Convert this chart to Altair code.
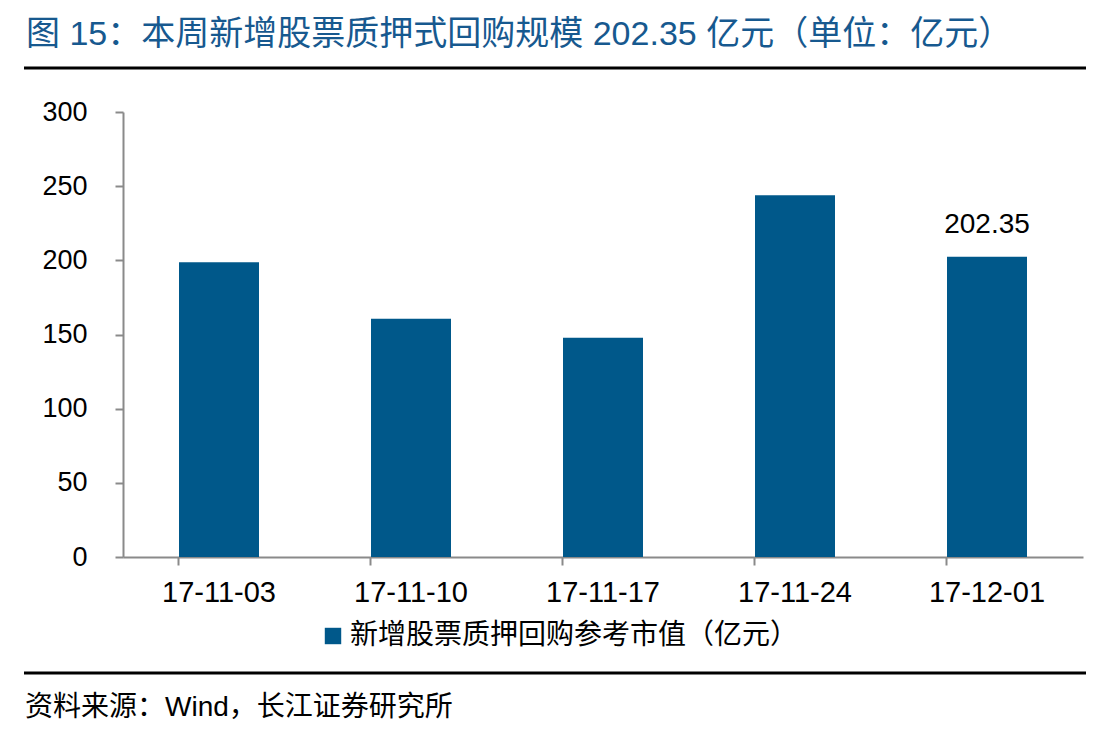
import altair as alt
import pandas as pd

dates = ["17-11-03", "17-11-10", "17-11-17", "17-11-24", "17-12-01"]
values = [198.7, 160.6, 147.8, 243.8, 202.35]
series_name = "新增股票质押回购参考市值（亿元）"
label_date = "17-12-01"
label_text = "202.35"

title_text = "图  15：本周新增股票质押式回购规模 202.35 亿元（单位：亿元）"
source_text = "资料来源：Wind，长江证券研究所"

FONT = "Liberation Sans, Arial, Noto Sans CJK SC"
BAR = "#00588A"
TITLE_C = "#17598F"

df = pd.DataFrame({"date": dates, "value": values, "series": [series_name] * len(dates)})
lab_df = pd.DataFrame({"date": [label_date], "value": [values[dates.index(label_date)]], "txt": [label_text]})

W, H = 960, 445

base = alt.Chart(df)

bars = base.mark_bar(size=80).encode(
    x=alt.X("date:N", sort=dates, title=None,
            scale=alt.Scale(paddingInner=0.58, paddingOuter=0.29),
            axis=alt.Axis(labelAngle=0, labelFontSize=29, labelFont=FONT, labelColor="#000000",
                          domainColor="#8a8a8a", domainWidth=2, tickColor="#8a8a8a", tickWidth=2,
                          tickSize=8, labelPadding=13, bandPosition=0, grid=False)),
    y=alt.Y("value:Q", title=None,
            scale=alt.Scale(domain=[0, 300], nice=False),
            axis=alt.Axis(values=[0, 50, 100, 150, 200, 250, 300], labelFontSize=27, labelFont=FONT,
                          labelColor="#000000", domainColor="#8a8a8a", domainWidth=2,
                          tickColor="#8a8a8a", tickWidth=2, tickSize=8, labelPadding=28, grid=False)),
    color=alt.Color("series:N", scale=alt.Scale(range=[BAR]),
                    legend=alt.Legend(title=None, orient="none", legendX=196, legendY=510,
                                      symbolType="square", symbolSize=270, symbolStrokeWidth=0,
                                      labelFontSize=28, labelFont=FONT, labelColor="#000000",
                                      labelOffset=3, labelLimit=1000)),
)

labels = alt.Chart(lab_df).mark_text(fontSize=28, font=FONT, color="#000000", baseline="alphabetic", dy=-24).encode(
    x=alt.X("date:N", sort=dates),
    y=alt.Y("value:Q"),
    text="txt:N",
)

title = alt.Chart(pd.DataFrame({"t": [title_text]})).mark_text(
    fontSize=34, font=FONT, color=TITLE_C, align="left", baseline="middle"
).encode(x=alt.value(-97), y=alt.value(-77), text="t:N")

source = alt.Chart(pd.DataFrame({"t": [source_text]})).mark_text(
    fontSize=28, font=FONT, color="#000000", align="left", baseline="middle"
).encode(x=alt.value(-98), y=alt.value(596), text="t:N")

rule_top = alt.Chart(pd.DataFrame({"a": [0]})).mark_rule(color="#000000", strokeWidth=3).encode(
    x=alt.value(-99), x2=alt.value(963), y=alt.value(-44))
rule_bot = alt.Chart(pd.DataFrame({"a": [0]})).mark_rule(color="#000000", strokeWidth=3).encode(
    x=alt.value(-99), x2=alt.value(963), y=alt.value(561))

chart = alt.layer(bars, labels, title, source, rule_top, rule_bot).properties(
    width=W, height=H,
    background="white",
    autosize=alt.AutoSizeParams(type="none"),
    padding={"left": 115, "top": 104, "right": 8, "bottom": 173},
).configure_view(strokeWidth=0, stroke="transparent")

chart.save("out.html", embed_options={"renderer": "svg", "actions": False})
